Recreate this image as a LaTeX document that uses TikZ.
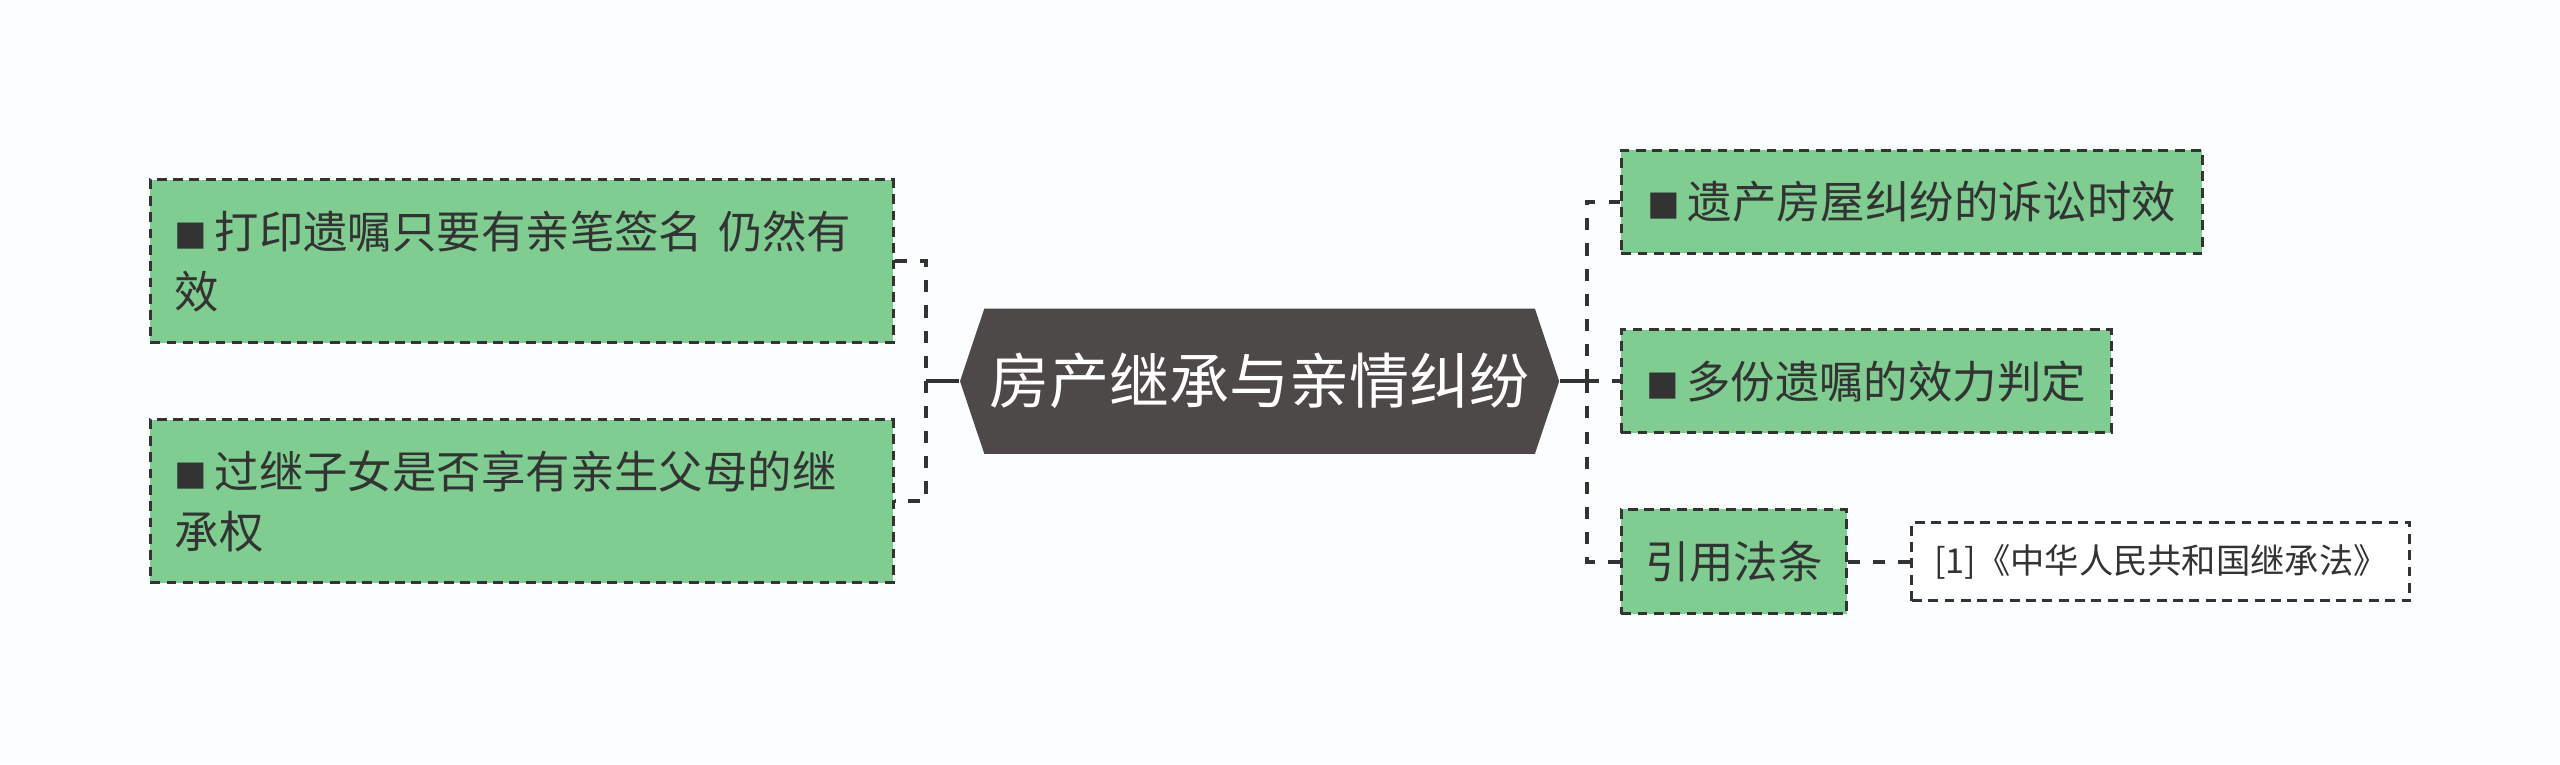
\documentclass[tikz,border=0pt]{standalone}
\usepackage{fontspec}
\setmainfont{Noto Sans CJK SC}
\usetikzlibrary{shapes,positioning}
\definecolor{bgpaper}{HTML}{FBFDFE}
\definecolor{leafgreen}{HTML}{7FCD91}
\definecolor{rootgray}{HTML}{4D4949}
\definecolor{linegray}{HTML}{333333}
\newcommand{\bul}{{\fontsize{10}{10}\selectfont ■}\,}
\tikzset{
  leaf/.style={draw=linegray,line width=0.9pt,dash pattern=on 3pt off 2pt,
    fill=leafgreen,text=linegray,inner sep=0pt,
    font=\fontsize{13.6}{18.5}\selectfont},
  cite/.style={draw=linegray,line width=0.9pt,dash pattern=on 3pt off 2pt,
    fill=white,text=linegray,inner sep=0pt,minimum width=152.5pt,minimum height=24pt,
    font=\fontsize{10.5}{12}\selectfont},
  root/.style={signal,signal from=nowhere,signal to=west and east,signal pointer angle=143,
    fill=rootgray,text=white,inner sep=0pt,minimum width=183.5pt,minimum height=44.5pt,
    font=\fontsize{18.4}{20}\selectfont},
  link/.style={draw=linegray,line width=1.2pt},
  branch/.style={draw=linegray,line width=1.2pt,dash pattern=on 3.7pt off 4pt}
}

\begin{document}
\begin{tikzpicture}[x=0.5pt,y=-0.5pt]
  \fill[bgpaper] (0,0) rectangle (1568,468);
  \useasboundingbox (0,0) rectangle (1568,468);

  \node [root] (root) at (771.5,233.5) {房产继承与亲情纠纷};

  % left side
  \node [leaf,minimum width=227.5pt,minimum height=50pt,text width=212.5pt,align=left] (will) at (319.5,160)
    {\bul 打印遗嘱只要有亲笔签名 仍然有\\效};
  \node [leaf,minimum width=227.5pt,minimum height=50pt,text width=212.5pt,align=left] (adopt) at (319.5,307)
    {\bul 过继子女是否享有亲生父母的继\\承权};
  \coordinate (lj) at (567,233.5);
  \draw [link] (root.west) -- (lj);
  \draw [branch] (will.east) -| (lj) |- (adopt.east);

  % right side
  \node [leaf,minimum width=178pt,minimum height=31.5pt] (house) at (1171,123.5) {\bul 遗产房屋纠纷的诉讼时效};
  \node [leaf,minimum width=150pt,minimum height=31.5pt] (multi) at (1143,233.5) {\bul 多份遗嘱的效力判定};
  \node [leaf,minimum width=69pt,minimum height=32pt] (law) at (1062,344) {引用法条};
  \node [cite] (code) at (1323.5,344) {[1]《中华人民共和国继承法》};
  \coordinate (rj) at (972,233.5);
  \draw [link] (root.east) -- (rj);
  \draw [branch] (rj) |- (house.west);
  \draw [branch] (rj) -- (multi.west);
  \draw [branch] (rj) |- (law.west);
  \draw [branch] (law) -- (code);

\end{tikzpicture}
\end{document}
